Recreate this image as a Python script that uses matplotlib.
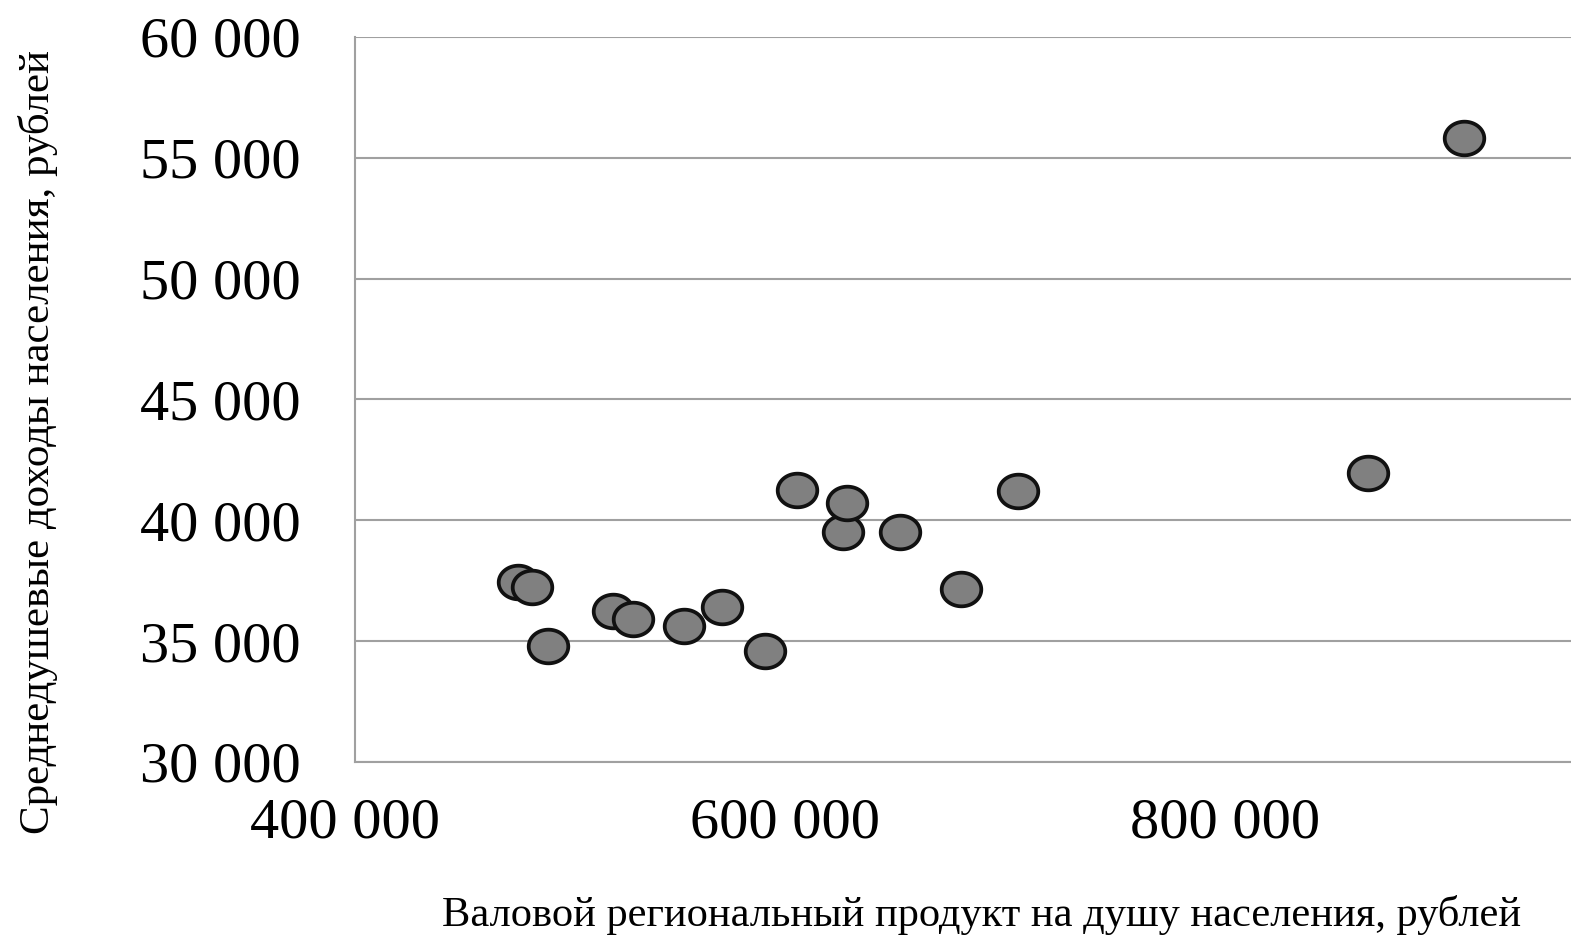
import numpy as np
import matplotlib.pyplot as plt
from matplotlib.path import Path

# данные
vrp = [478800, 484800, 492400, 521700, 531000, 554000, 571500, 591000,
       605500, 626400, 628200, 652300, 680000, 705900, 865000, 908500]
dohody = [37460, 37255, 34800, 36260, 35905, 35640, 36430, 34606,
          41257, 39520, 40720, 39520, 37160, 41216, 41960, 55810]

x_ticks = [400000, 600000, 800000]
y_ticks = [30000, 35000, 40000, 45000, 50000, 55000, 60000]

def fmt(v):
    return f"{v:,}".replace(",", " ")

plt.rcParams['font.family'] = ['Liberation Serif', 'DejaVu Serif']

# эллиптический маркер (как в исходнике, чуть сплюснутый)
t = np.linspace(0, 2 * np.pi, 100)
ellipse = Path(np.column_stack([np.cos(t), 0.85 * np.sin(t)]), closed=True)

fig = plt.figure(figsize=(15.71, 9.42), dpi=100)
ax = fig.add_axes([355 / 1571, 180 / 942, 1 - 355 / 1571, 725 / 942])

ax.plot(vrp, dohody, linestyle='none', marker=ellipse, markersize=28.5,
        markerfacecolor='#808080', markeredgecolor='#111111',
        markeredgewidth=2.7, zorder=3)

ax.set_xlim(404500, 957300)
ax.set_ylim(30000, 60000)
ax.set_yticks(y_ticks)
ax.set_yticklabels([fmt(v) for v in y_ticks])
ax.set_xticks([])
for v in x_ticks:
    ax.text(v, -0.085, fmt(v), transform=ax.get_xaxis_transform(),
            ha='center', va='center', fontsize=42, clip_on=False)

ax.grid(axis='y', color='#a0a0a0', linewidth=1.5)
ax.tick_params(axis='y', length=0, pad=39, labelsize=42)
for s in ['top', 'right']:
    ax.spines[s].set_visible(False)
for s in ['left', 'bottom']:
    ax.spines[s].set_color('#a0a0a0')
    ax.spines[s].set_linewidth(1.5)

fig.text(982 / 1571, 1 - 915 / 942,
         'Валовой региональный продукт на душу населения, рублей',
         ha='center', va='center', fontsize=30.6)
fig.text(38 / 1571, 1 - 442 / 942,
         'Среднедушевые доходы населения, рублей',
         ha='center', va='center', rotation=90, fontsize=31)

fig.savefig('out.png', dpi=100)
